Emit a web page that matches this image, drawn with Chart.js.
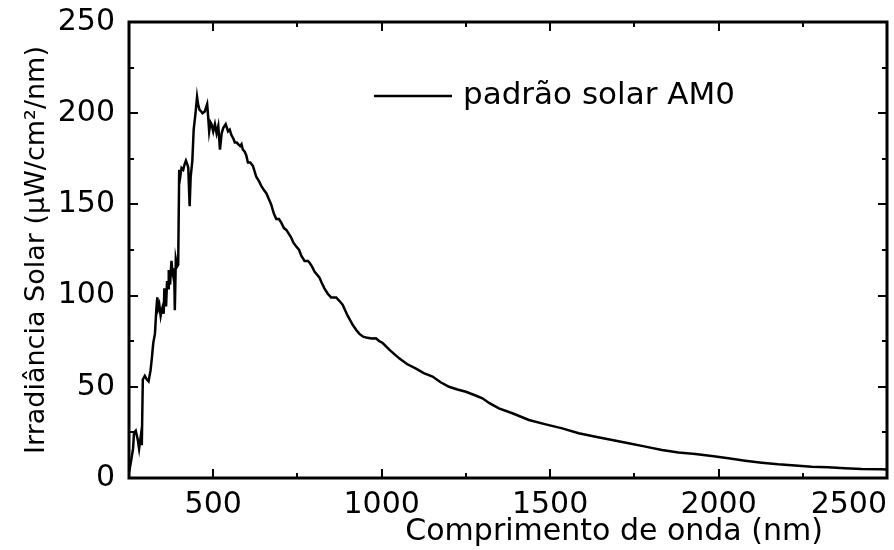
<!DOCTYPE html>
<html>
<head>
<meta charset="utf-8">
<script src="https://cdn.jsdelivr.net/npm/chart.js@4"></script>
<style>
  body { margin: 0; background: #fff; }
  #wrap { width: 894px; height: 550px; }
</style>
</head>
<body>
<div id="wrap"><canvas id="am0-chart"></canvas></div>
<script>
// espectro AM0 (nm, µW/cm²/nm)
var wavelength = [250, 255, 262, 265, 270, 276, 280, 285, 288, 291, 297, 303, 308, 314, 318, 322, 327, 331, 334, 337,
    340, 344, 347, 350, 353, 355, 358, 360, 363, 366, 368, 372, 376, 379, 381, 384, 386, 389, 393, 396,
    399, 402, 406, 411, 415, 419, 423, 426, 430, 433, 438, 442, 448, 452, 455, 459, 464, 468, 475, 482,
    485, 488, 492, 495, 500, 505, 510, 515, 520, 525, 530, 537, 544, 549, 554, 560, 564, 570, 574, 580,
    584, 588, 593, 598, 603, 610, 618, 628, 635, 643, 650, 658, 665, 672, 680, 687, 695, 702, 710, 717,
    724, 731, 738, 746, 755, 761, 771, 781, 786, 793, 801, 815, 822, 830, 840, 850, 865, 875, 884, 899,
    914, 925, 934, 945, 954, 970, 983, 993, 1003, 1025, 1052, 1075, 1102, 1125, 1151, 1175, 1200, 1225, 1250, 1275,
    1299, 1320, 1348, 1388, 1437, 1487, 1536, 1585, 1635, 1684, 1733, 1783, 1832, 1881, 1931, 1980, 2029, 2079, 2128, 2177,
    2227, 2276, 2325, 2375, 2424, 2482, 2500]
var irradiance = [3, 8, 16, 25, 26, 21, 16, 23, 18, 54, 56, 54, 53, 59, 66, 74, 79, 92, 99, 93,
    95, 89, 92, 94, 90, 104, 100, 94, 108, 104, 114, 106, 119, 113, 111, 115, 92, 120, 116, 117,
    169, 165, 170, 169, 172, 174, 172, 170, 149, 165, 174, 191, 201, 209, 205, 202, 201, 200, 201, 205,
    198, 190, 195, 194, 190, 194, 189, 193, 180, 189, 192, 194, 190, 191, 188, 186, 184, 184, 183, 182,
    183, 180, 179, 177, 173, 173, 171, 165, 163, 160, 158, 156, 153, 150, 145, 142, 142, 140, 137, 136,
    134, 132, 129, 127, 125, 122, 119, 119, 118, 116, 113, 110, 107, 104, 101, 99, 99, 97, 95, 89,
    84, 81, 79, 77.5, 77, 76.5, 76.6, 75, 74, 70, 65.6, 62.5, 60, 57.5, 55.6, 52.5, 50, 48.5, 47.3, 45.5,
    43.7, 41, 38.2, 35.5, 31.8, 29.4, 27.2, 24.5, 22.6, 20.8, 19, 17.2, 15.4, 14, 13.2, 12, 10.8, 9.5, 8.4, 7.5,
    6.8, 6.2, 5.9, 5.3, 4.9, 4.8, 4.7]

var xTicks = [250, 500, 750, 1000, 1250, 1500, 1750, 2000, 2250, 2500]
var yTicks = [0, 25, 50, 75, 100, 125, 150, 175, 200, 225, 250]
var seriesName = 'padrão solar AM0'
var xTitle = 'Comprimento de onda (nm)'
var yTitle = 'Irradiância Solar (μW/cm²/nm)'

Chart.defaults.font.family = 'DejaVu Sans'
Chart.defaults.color = '#000'

var points = wavelength.map(function (w, i) {
    return { x: w, y: irradiance[i] }
})

// moldura, marcas internas, legenda e título do eixo x
const framePlugin = {
    id: 'frameTicks',
    afterDraw: function (chart) {
        var ctx = chart.ctx
        var a = chart.chartArea
        var xs = chart.scales.x
        var ys = chart.scales.y
        ctx.save()
        ctx.strokeStyle = '#000'
        ctx.lineWidth = 2
        ctx.beginPath()
        xTicks.forEach(function (v) {
            var px = Math.round(xs.getPixelForValue(v))
            var len = v % 500 === 0 ? 9 : 5
            ctx.moveTo(px, a.bottom); ctx.lineTo(px, a.bottom - len)
            ctx.moveTo(px, a.top); ctx.lineTo(px, a.top + len)
        })
        yTicks.forEach(function (v) {
            var py = Math.round(ys.getPixelForValue(v))
            var len = v % 50 === 0 ? 9 : 5
            ctx.moveTo(a.left, py); ctx.lineTo(a.left + len, py)
            ctx.moveTo(a.right, py); ctx.lineTo(a.right - len, py)
        })
        ctx.stroke()
        ctx.lineWidth = 3
        ctx.strokeRect(a.left, a.top, a.right - a.left, a.bottom - a.top)

        // legenda
        var lx = a.left + 245
        var ly = a.top + 74
        ctx.lineWidth = 2.5
        ctx.beginPath()
        ctx.moveTo(lx, ly); ctx.lineTo(lx + 78, ly)
        ctx.stroke()
        ctx.fillStyle = '#000'
        ctx.font = '31px "DejaVu Sans"'
        ctx.textAlign = 'left'
        ctx.textBaseline = 'middle'
        ctx.fillText(seriesName, lx + 89, ly)

        // título x
        ctx.font = '30px "DejaVu Sans"'
        ctx.textAlign = 'center'
        ctx.textBaseline = 'alphabetic'
        ctx.fillText(xTitle, a.left + 0.64 * (a.right - a.left), a.bottom + 62)
        ctx.restore()
    }
}

const config = {
    type: 'scatter',
    data: {
        datasets: [{
            label: seriesName,
            data: points,
            showLine: true,
            borderColor: '#000',
            borderWidth: 2.5,
            pointRadius: 0,
            tension: 0
        }]
    },
    options: {
        responsive: true,
        maintainAspectRatio: false,
        animation: false,
        devicePixelRatio: 1,
        layout: { padding: { top: 22, right: 7, left: 0, bottom: 0 } },
        plugins: {
            legend: { display: false },
            tooltip: { enabled: false }
        },
        scales: {
            x: {
                type: 'linear',
                min: 250,
                max: 2500,
                afterBuildTicks: function (scale) {
                    scale.ticks = xTicks.map(function (v) { return { value: v } })
                },
                afterFit: function (scale) {
                    scale.height = 72
                    scale.paddingLeft = 0
                    scale.paddingRight = 0
                },
                grid: { display: false, drawTicks: false },
                border: { display: false },
                ticks: {
                    align: 'inner',
                    padding: 9,
                    font: { size: 30 },
                    maxRotation: 0,
                    autoSkip: false,
                    callback: function (v) { return v % 500 === 0 ? String(v) : '' }
                }
            },
            y: {
                min: 0,
                max: 250,
                afterBuildTicks: function (scale) {
                    scale.ticks = yTicks.map(function (v) { return { value: v } })
                },
                afterFit: function (scale) {
                    scale.width = 129
                    scale.paddingTop = 0
                    scale.paddingBottom = 0
                },
                grid: { display: false, drawTicks: false },
                border: { display: false },
                ticks: {
                    padding: 14,
                    font: { size: 30 },
                    autoSkip: false,
                    callback: function (v) { return v % 50 === 0 ? String(v) : '' }
                },
                title: {
                    display: true,
                    text: yTitle,
                    font: { size: 27 },
                    padding: { top: 21, bottom: 0 }
                }
            }
        }
    },
    plugins: [framePlugin]
}

const am0Chart = new Chart(document.getElementById('am0-chart'), config)
</script>
</body>
</html>
